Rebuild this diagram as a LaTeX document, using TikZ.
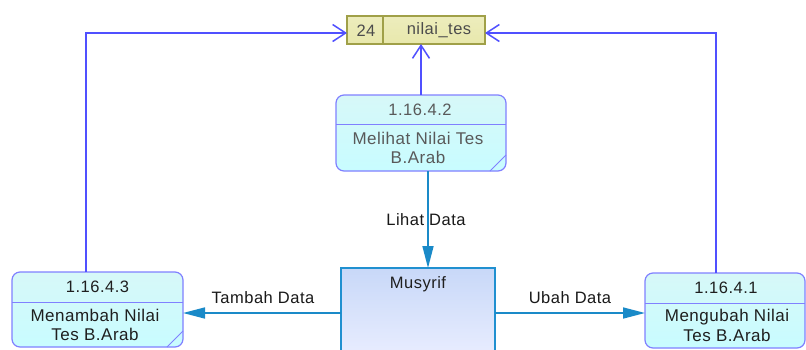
\documentclass[tikz,border=0pt]{standalone}
\usepackage{fontspec}
\setmainfont[LetterSpace=3]{Liberation Sans}
\usetikzlibrary{arrows.meta,calc}
\definecolor{procborder}{RGB}{128,128,255}
\definecolor{proctop}{RGB}{215,248,248}
\definecolor{procbot}{RGB}{200,252,255}
\definecolor{storefill}{RGB}{232,232,172}
\definecolor{storeborder}{RGB}{160,160,72}
\definecolor{extborder}{RGB}{32,144,208}
\definecolor{exttop}{RGB}{200,216,248}
\definecolor{extbot}{RGB}{234,238,255}
\definecolor{upline}{RGB}{80,80,255}
\definecolor{flowline}{RGB}{26,138,200}
\tikzset{
  proc/.style={draw=procborder, line width=1.2pt, rounded corners=8pt, top color=proctop, bottom color=procbot},
  divline/.style={draw=procborder, line width=1pt},
  txt/.style={font=\fontsize{17}{19.5}\selectfont, text=black!88, inner sep=0pt, align=center},
  idtxt/.style={font=\fontsize{16.5}{19}\selectfont, text=black!88, inner sep=0pt},
  upflow/.style={draw=upline, line width=1.6pt, -{Straight Barb[length=13pt,width=17pt,line width=1.5pt]}},
  dflow/.style={draw=flowline, line width=1.6pt, -{Triangle[length=22pt,width=11pt]}},
  lbl/.style={font=\fontsize{16.5}{18}\selectfont, text=black!90, inner sep=0pt},
}
\begin{document}
\begin{tikzpicture}[x=1pt,y=-1pt]
\useasboundingbox (0,0) rectangle (806,349);
\fill[white] (0,0) rectangle (806,349);
\begin{scope}
\clip (0,0) rectangle (806,349);
% data store
\path[draw=storeborder, line width=1.2pt, top color=storefill!80!white, bottom color=storefill] (347,16) rectangle (485,44);
\draw[storeborder, line width=1.2pt] (383,16) -- (383,44);
\node[idtxt, text=black!70] (sid) at (366,30.5) {24};
\node[idtxt, text=black!70] (sname) at (439,30.5) {nilai\_tes};
\coordinate (storeL) at (347,33);
\coordinate (storeR) at (485,33);
\coordinate (storeB) at (421,44);
% process 1.16.4.2
\path[proc] (336,95) rectangle (506,171);
\draw[divline] (336,124) -- (506,124);
\draw[divline] (490,171) -- (506,155);
\node[idtxt, text=black!65] (p2id) at (420,109.5) {1.16.4.2};
\node[txt, text=black!65] (p2) at (418,148) {Melihat Nilai Tes\\B.Arab};
\coordinate (p2T) at (421,95);
\coordinate (p2B) at (428,171);
% process 1.16.4.3
\path[proc] (12,272) rectangle (183,347);
\draw[divline] (12,302) -- (183,302);
\draw[divline] (167,347) -- (183,331);
\node[idtxt] (p3id) at (97.5,287) {1.16.4.3};
\node[txt] (p3) at (95,325) {Menambah Nilai\\Tes B.Arab};
\coordinate (p3T) at (86,272);
\coordinate (p3R) at (183,313);
% process 1.16.4.1
\path[proc] (645,273) rectangle (805,348);
\draw[divline] (645,303) -- (805,303);
\node[idtxt] (p1id) at (726,288) {1.16.4.1};
\node[txt] (p1) at (727,325.5) {Mengubah Nilai\\Tes B.Arab};
\coordinate (p1T) at (716,273);
\coordinate (p1L) at (645,313);
% external entity Musyrif
\path[draw=extborder, line width=1.4pt, top color=exttop, bottom color=extbot] (341,268) rectangle (495,360);
\node[idtxt] (mus) at (418,284) {Musyrif};
\coordinate (musT) at (428,268);
\coordinate (musL) at (341,313);
\coordinate (musR) at (495,313);
% flows to the store
\draw[upflow] (p3T) |- (storeL);
\draw[upflow] (p1T) |- (storeR);
\draw[upflow] (p2T) -- (storeB);
% data flows
\draw[dflow] (p2B) -- (musT);
\draw[dflow] (musL) -- (p3R);
\draw[dflow] (musR) -- (p1L);
\node[lbl] (l1) at (426,220) {Lihat Data};
\node[lbl] (l2) at (263,298) {Tambah Data};
\node[lbl] (l3) at (570,298) {Ubah Data};
\end{scope}
\end{tikzpicture}
\end{document}
